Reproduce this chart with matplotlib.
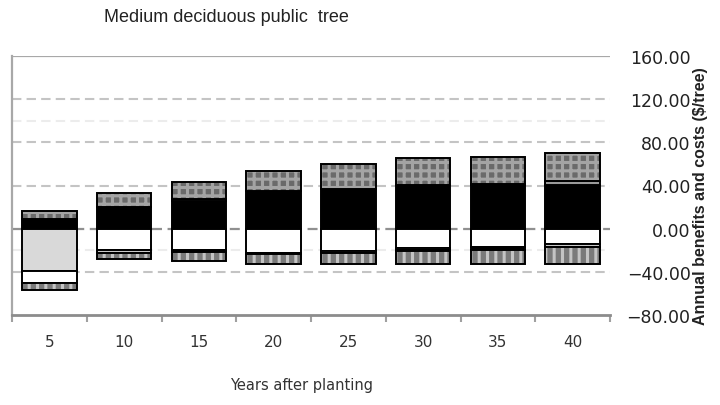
import numpy as np
import matplotlib
matplotlib.use("Agg")
import matplotlib.pyplot as plt
from matplotlib.ticker import FuncFormatter, FixedLocator

# ---- data ----
years = ["5", "10", "15", "20", "25", "30", "35", "40"]

# benefits (stacked upward from 0)
benefit_main = [9.3, 20.5, 26.0, 35.0, 36.5, 40.3, 40.3, 40.3]
benefit_minor = [0.0, 0.0, 1.5, 0.0, 0.0, 0.0, 1.0, 4.0]
benefit_other = [7.1, 12.1, 16.2, 18.6, 23.2, 24.8, 25.3, 25.4]

# costs (stacked downward from 0)
cost_planting = [-39.4, 0.0, 0.0, 0.0, 0.0, 0.0, 0.0, 0.0]
cost_main = [-10.8, -20.2, -19.9, -22.3, -20.8, -17.7, -17.1, -14.6]
cost_small_a = [0.0, -2.1, 0.0, 0.0, -2.2, -2.3, 0.0, -2.1]
cost_small_b = [0.0, 0.0, -1.5, -1.0, 0.0, -1.0, -2.9, 0.0]
cost_other = [-6.3, -5.6, -8.6, -9.9, -10.0, -11.3, -12.3, -15.6]

yticks = [-80, -40, 0, 40, 80, 120, 160]

plt.rcParams["hatch.linewidth"] = 2.2

fig = plt.figure(figsize=(7.2, 4.06), dpi=100)
ax = fig.add_axes([12 / 720, 1 - 316 / 406, 598 / 720, 259 / 406])

x = np.arange(len(years))
w = 0.73

# gridlines
for v in [120, 80, 40, -40]:
    ax.axhline(v, color="#c4c4c4", lw=1.5, ls=(0, (4.5, 2.5)), zorder=0)
for v in [100, -20]:
    ax.axhline(v, color="#ececec", lw=1.5, ls=(0, (4.5, 2.5)), zorder=0)
ax.axhline(0, color="#909090", lw=1.6, ls=(0, (4.5, 2.5)), zorder=0)
ax.axhline(160, color="#a8a8a8", lw=1.6, zorder=0)


def draw(values, bottom, face, hatch=None, hatch_color=None):
    values = np.asarray(values)
    if hatch:
        ax.bar(x, values, w, bottom=bottom, color=face, edgecolor=hatch_color,
               hatch=hatch, linewidth=0, zorder=2)
        ax.bar(x, values, w, bottom=bottom, fill=False, edgecolor="black",
               linewidth=1.4, zorder=3)
    else:
        ax.bar(x, values, w, bottom=bottom, color=face, edgecolor="black",
               linewidth=1.4, zorder=2)
    return bottom + values


pos = np.zeros(len(years))
pos = draw(benefit_main, pos, "black")
pos = draw(benefit_minor, pos, "#9a9a9a")
pos = draw(benefit_other, pos, "#6a6a6a", hatch="++", hatch_color="#a4a4a4")

neg = np.zeros(len(years))
neg = draw(cost_planting, neg, "#d9d9d9")
neg = draw(cost_main, neg, "white")
neg = draw(cost_small_a, neg, "#c8c8c8")
neg = draw(cost_small_b, neg, "black")
neg = draw(cost_other, neg, "#7a7a7a", hatch="||", hatch_color="#c4c4c4")

ax.set_xlim(-0.5, len(years) - 0.5)
ax.set_ylim(-80, 160)

# spines
for s in ["right", "top"]:
    ax.spines[s].set_visible(False)
ax.spines["left"].set_color("#a8a8a8")
ax.spines["left"].set_linewidth(1.6)
ax.spines["bottom"].set_color("#8c8c8c")
ax.spines["bottom"].set_linewidth(2.0)

# x ticks
ax.set_xticks(x)
ax.set_xticklabels(years, fontsize=11, color="#333333")
ax.tick_params(axis="x", which="major", length=0, pad=14)
ax.xaxis.set_minor_locator(FixedLocator(np.arange(-0.5, len(years), 1.0)))
ax.tick_params(axis="x", which="minor", length=5, width=1.5, color="#a0a0a0")

# y ticks on right
ax.yaxis.tick_right()
ax.set_yticks(yticks)
ax.yaxis.set_major_formatter(FuncFormatter(lambda v, p: f"{v:.2f}".replace("-", "\u2212")))
ax.tick_params(axis="y", length=0, pad=58, labelsize=12.5, labelcolor="#222222")
for lab in ax.get_yticklabels():
    lab.set_horizontalalignment("right")

ax.set_xlabel("Years after planting", fontsize=10.5, color="#333333")
ax.xaxis.set_label_coords((302 - 12) / 598, -(383 - 316) / 259 + 0.02)

fig.text(701 / 720, 1 - 196 / 406, "Annual benefits and costs ($/tree)",
         rotation=90, ha="center", va="center", fontsize=11.5,
         fontweight="bold", family=["Liberation Sans", "DejaVu Sans"], color="#222222")

fig.text(226 / 720, 1 - 17 / 406, "Medium deciduous public  tree",
         ha="center", va="center", fontsize=13,
         family=["Liberation Sans", "DejaVu Sans"], color="#222222")

fig.savefig("out.png", dpi=100)
